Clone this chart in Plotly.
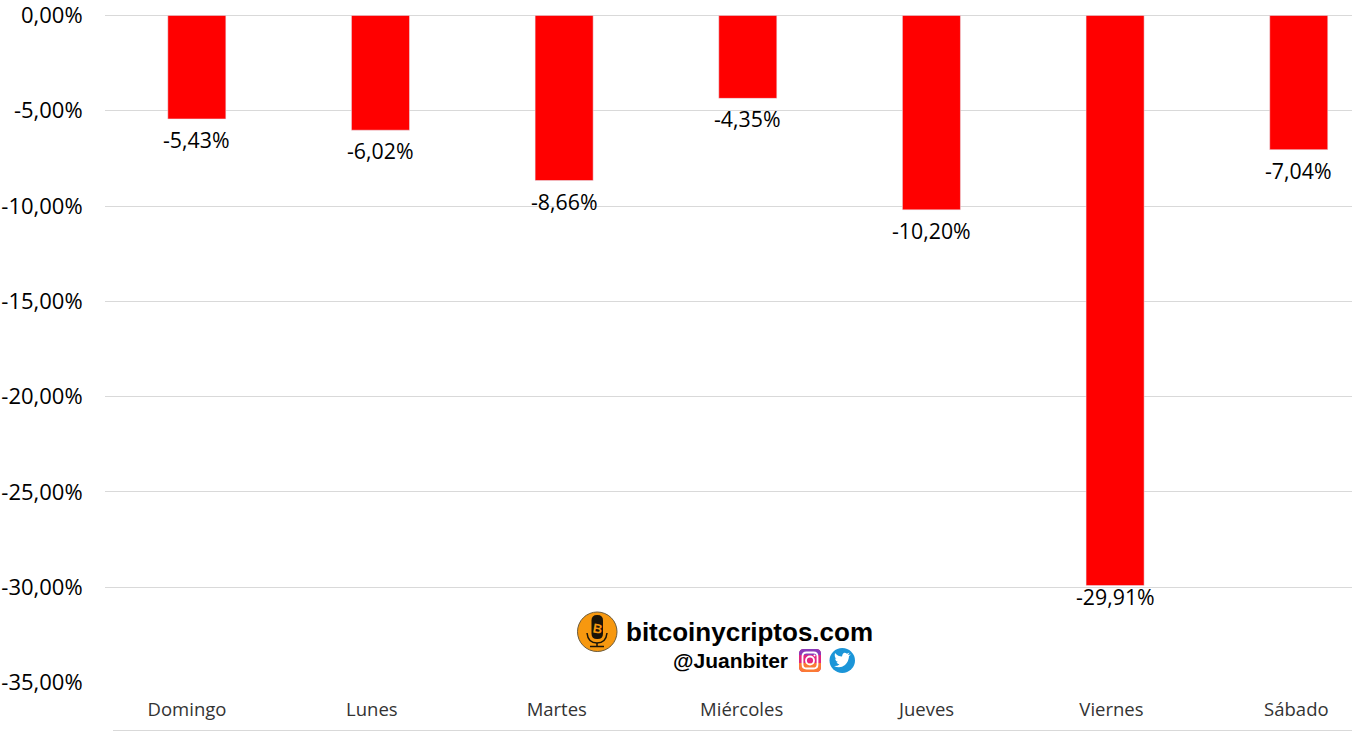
import plotly.graph_objects as go

days = ["Domingo", "Lunes", "Martes", "Miércoles", "Jueves", "Viernes", "Sábado"]
values = [-5.43, -6.02, -8.66, -4.35, -10.20, -29.91, -7.04]
labels = ["-5,43%", "-6,02%", "-8,66%", "-4,35%", "-10,20%", "-29,91%", "-7,04%"]
tick_vals = [0, -5, -10, -15, -20, -25, -30, -35]
tick_text = ["0,00%", "-5,00%", "-10,00%", "-15,00%", "-20,00%", "-25,00%", "-30,00%", "-35,00%"]

FONT = "Open Sans"
W, H = 1352, 731
L, T, B = 105, 15, 48
GRID = "#d9d9d9"


def px(x):
    return (x - L) / (W - L)


def py(y):
    return (H - B - y) / (H - T - B)


def pill(x0, y0, x1, y1, r):
    return (f"M{px(x0 + r)},{py(y0)} L{px(x1 - r)},{py(y0)} Q{px(x1)},{py(y0)} {px(x1)},{py(y0 + r)} "
            f"L{px(x1)},{py(y1 - r)} Q{px(x1)},{py(y1)} {px(x1 - r)},{py(y1)} "
            f"L{px(x0 + r)},{py(y1)} Q{px(x0)},{py(y1)} {px(x0)},{py(y1 - r)} "
            f"L{px(x0)},{py(y0 + r)} Q{px(x0)},{py(y0)} {px(x0 + r)},{py(y0)} Z")


def paper(kind, x0, y0, x1, y1, **kw):
    return dict(type=kind, xref="paper", yref="paper", x0=px(x0), x1=px(x1), y0=py(y0), y1=py(y1), **kw)


def path(d, **kw):
    return dict(type="path", xref="paper", yref="paper", path=d, **kw)


no_line = dict(width=0)
shapes = [
    paper("line", 113, 730.5, 1352, 730.5, line=dict(color=GRID, width=1)),
    # podcast logo
    paper("circle", 577.5, 612, 617, 651.5, fillcolor="#f7980f", line=dict(color="#6b5a3a", width=1)),
    path(pill(591.5, 615, 603, 639, 5.5), fillcolor="#1a1408", line=no_line),
    path(f"M{px(587)},{py(633)} Q{px(588)},{py(643)} {px(597)},{py(643)} Q{px(606)},{py(643)} {px(607)},{py(633)}",
         line=dict(color="#1a1408", width=1.5)),
    paper("line", 597, 643, 597, 646, line=dict(color="#1a1408", width=1.5)),
    paper("line", 590, 646.5, 604, 646.5, line=dict(color="#1a1408", width=1.5)),
    # Instagram
    path(pill(799, 649, 821, 672, 5), fillcolor="#e1257f", line=no_line),
    path(f"M{px(799)},{py(663)} L{px(821)},{py(663)} L{px(821)},{py(667)} Q{px(821)},{py(672)} {px(816)},{py(672)} "
         f"L{px(804)},{py(672)} Q{px(799)},{py(672)} {px(799)},{py(667)} Z", fillcolor="#fb7a35", line=no_line),
    path(f"M{px(799)},{py(655)} L{px(799)},{py(654)} Q{px(799)},{py(649)} {px(804)},{py(649)} L{px(816)},{py(649)} "
         f"Q{px(821)},{py(649)} {px(821)},{py(654)} L{px(821)},{py(655)} Z", fillcolor="#8a3ab9", line=no_line),
    path(pill(802.5, 652.5, 817.5, 668.5, 4), fillcolor="rgba(0,0,0,0)", line=dict(color="white", width=1.8)),
    paper("circle", 806, 656.5, 814, 664.5, fillcolor="rgba(0,0,0,0)", line=dict(color="white", width=1.8)),
    paper("circle", 813.5, 654.5, 815.5, 656.5, fillcolor="white", line=no_line),
    # Twitter
    paper("circle", 829.5, 648, 855, 673, fillcolor="#1b95d8", line=no_line),
    path(f"M{px(834)},{py(666)} Q{px(840)},{py(669)} {px(845)},{py(665)} Q{px(849)},{py(661)} {px(849)},{py(656)} "
         f"L{px(851)},{py(654.5)} L{px(848)},{py(655)} L{px(849.5)},{py(652.5)} L{px(847)},{py(653.8)} "
         f"Q{px(843)},{py(651)} {px(842)},{py(656.5)} Q{px(838)},{py(656.5)} {px(835)},{py(653)} "
         f"Q{px(834)},{py(657)} {px(836.5)},{py(659)} L{px(835)},{py(658.5)} Q{px(835.5)},{py(661.5)} {px(838)},{py(662)} "
         f"L{px(836.5)},{py(662.3)} Q{px(837.5)},{py(664.3)} {px(839.5)},{py(664.5)} Q{px(837)},{py(666.3)} {px(834)},{py(666)} Z",
         fillcolor="white", line=no_line),
]

annotations = [
    dict(x=d, y=v, text=t, xref="x", yref="y", showarrow=False, xanchor="center", yanchor="middle",
         yshift=-10.5 if v < -29 else -20.5, font=dict(family=FONT, size=21.3, color="#000"))
    for d, v, t in zip(days, values, labels)
]
annotations += [
    dict(text="<b>bitcoinycriptos.com</b>", xref="paper", yref="paper", x=px(626), y=py(632), xanchor="left",
         yanchor="middle", xshift=-2, showarrow=False, font=dict(family="Liberation Sans", size=26, color="#000")),
    dict(text="<b>@Juanbiter</b>", xref="paper", yref="paper", x=px(673), y=py(660), xanchor="left",
         yanchor="middle", xshift=-2, showarrow=False, font=dict(family="Liberation Sans", size=21, color="#000")),
    dict(text="<b>B</b>", xref="paper", yref="paper", x=px(597.3), y=py(628), xanchor="center", yanchor="middle",
         showarrow=False, textangle=10, font=dict(family="Liberation Sans", size=13, color="#f7980f")),
]

fig = go.Figure()
fig.add_bar(x=days, y=values, marker_color="#ff0000", width=0.316, xaxis="x", yaxis="y", hoverinfo="x+y")
# Category labels sit on their own axis: their spacing differs slightly from the bars'.
fig.add_scatter(x=days, y=values, mode="none", xaxis="x2", yaxis="y", hoverinfo="skip")
fig.update_layout(
    width=W, height=H, autosize=False, paper_bgcolor="white", plot_bgcolor="white",
    margin=dict(l=L, r=0, t=T, b=B, autoexpand=False), showlegend=False, font=dict(family=FONT),
    xaxis=dict(range=[-0.5, 6.29], showticklabels=False, showgrid=False, showline=False, ticks="", zeroline=False),
    xaxis2=dict(overlaying="x", anchor="y", side="bottom", range=[-0.4435, 6.301], showgrid=False, showline=False,
                ticks="outside", ticklen=10, tickcolor="rgba(0,0,0,0)", zeroline=False,
                tickfont=dict(family=FONT, size=18.5, color="#333")),
    yaxis=dict(range=[-35.023, 0.024], tickvals=tick_vals, ticktext=tick_text, gridcolor=GRID, gridwidth=1,
               zeroline=True, zerolinecolor=GRID, zerolinewidth=1, ticks="outside", ticklen=17,
               ticklabeloverflow="allow", tickcolor="rgba(0,0,0,0)",
               tickfont=dict(family=FONT, size=22, color="#000")),
    shapes=shapes,
    annotations=annotations,
)
fig.write_html("out.html", config=dict(displayModeBar=False),
               post_script="document.body.style.margin='0';document.documentElement.style.overflow='hidden';")
